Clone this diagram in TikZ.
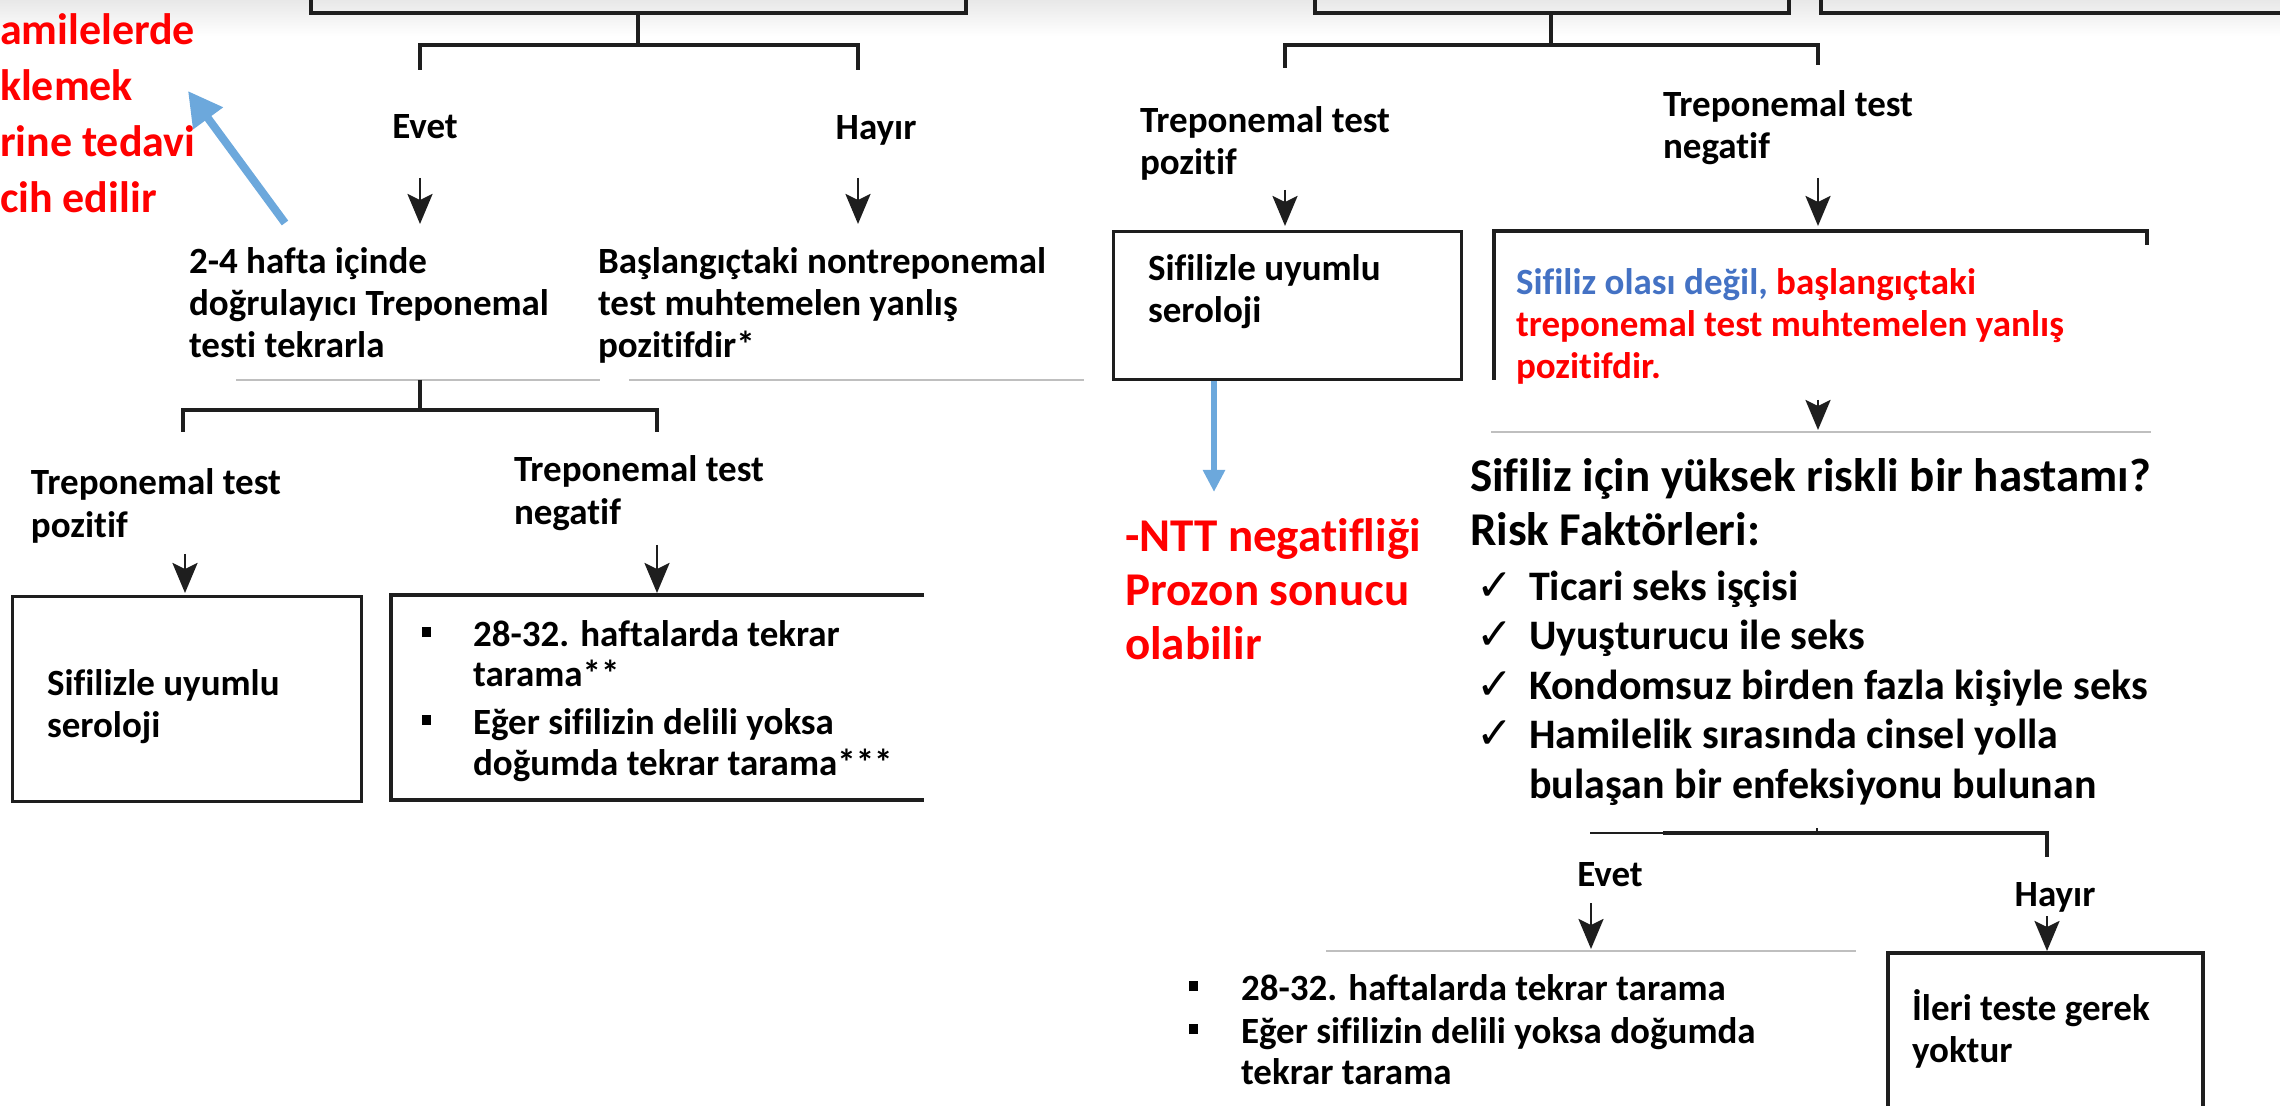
\documentclass[tikz,border=0pt]{standalone}
\usepackage{fontspec}
\setmainfont{Carlito}[Ligatures=NoCommon]
\newfontfamily\symfont{DejaVu Sans}
\usetikzlibrary{arrows.meta}
\definecolor{redT}{RGB}{255,0,0}
\definecolor{blueT}{RGB}{68,114,196}
\definecolor{blueA}{RGB}{108,168,220}
\definecolor{lineC}{RGB}{30,30,30}
\newcommand\Lines[1]{\begin{tabular}[t]{@{}l@{}}#1\end{tabular}}
\newcommand\sqb{\rule[4.5pt]{4.5pt}{5pt}}
\newcommand\ckm{\makebox[26.5pt][l]{\symfont\fontsize{22pt}{22pt}\selectfont ✓}}
\begin{document}
\begin{tikzpicture}[x=0.5pt,y=-0.5pt,
  txt/.style={anchor=base west, inner sep=0pt, outer sep=0pt},
  fM/.style={font={\bfseries\fontsize{18.5pt}{21pt}\selectfont}},
  fB/.style={font={\bfseries\fontsize{18.5pt}{20.5pt}\selectfont}},
  fH/.style={font={\bfseries\fontsize{23.5pt}{27pt}\selectfont}},
  fC/.style={font={\bfseries\fontsize{21pt}{24.75pt}\selectfont}},
  conn/.style={draw=lineC, line width=1.6pt},
  boxn/.style={draw=lineC, line width=1.7pt, inner sep=0pt, anchor=north west},
  sep/.style={draw=black!25, line width=1pt},
  arr/.style={draw=lineC, line width=1.4pt, -{Stealth[length=15pt,width=12.5pt,inset=3pt]}},
  barrowA/.style={draw=blueA, line width=4pt, -{Triangle[length=17pt,width=17.5pt]}},
  barrowB/.style={draw=blueA, line width=3pt, -{Triangle[length=11pt,width=10.5pt]}}]
\clip (0,0) rectangle (2280,1106);
\shade[top color=black!9, bottom color=white] (0,0) rectangle (2280,36);

% ---------------- left column ----------------
\coordinate (tlA) at (311,-6); \coordinate (tlB) at (311,13);
\coordinate (tlC) at (966,13); \coordinate (tlD) at (966,-6);
\draw[conn] (tlA) -- (tlB) -- (tlC) -- (tlD);
\coordinate (s1a) at (638,13); \coordinate (s1b) at (638,45);
\coordinate (b1l) at (420,70); \coordinate (b1r) at (858,70);
\draw[conn] (s1a) -- (s1b);
\draw[conn] (b1l) -- (b1l |- s1b) -- (b1r |- s1b) -- (b1r);

\node[txt,fM,anchor=base] (evet1) at (425,139) {Evet};
\node[txt,fM,anchor=base] (hayir1) at (876,140) {Hayır};
\coordinate (a1s) at (420,178); \coordinate (a1e) at (420,224);
\coordinate (a2s) at (858,178); \coordinate (a2e) at (858,224);
\draw[arr] (a1s) -- (a1e);
\draw[arr] (a2s) -- (a2e);

\node[txt,fM] (t24) at (189,274) {\Lines{2-4 hafta içinde\\doğrulayıcı Treponemal\\testi tekrarla}};
\node[txt,fM] (tbas) at (598,274) {\Lines{Başlangıçtaki nontreponemal\\test muhtemelen yanlış\\pozitifdir*}};

\coordinate (g1a) at (236,380); \coordinate (g1b) at (600,380);
\coordinate (g2a) at (629,380); \coordinate (g2b) at (1084,380);
\draw[sep] (g1a) -- (g1b);
\draw[sep] (g2a) -- (g2b);

\coordinate (s2a) at (420,380); \coordinate (s2b) at (420,410);
\coordinate (b2l) at (183,432); \coordinate (b2r) at (657,432);
\draw[conn] (s2a) -- (s2b);
\draw[conn] (b2l) -- (b2l |- s2b) -- (b2r |- s2b) -- (b2r);

\node[txt,fM] (tp1) at (31,495) {\Lines{Treponemal test\\pozitif}};
\node[txt,fM] (tn1) at (514,482) {\Lines{Treponemal test\\negatif}};
\coordinate (a3s) at (185,554); \coordinate (a3e) at (185,593);
\coordinate (a4s) at (657,545); \coordinate (a4e) at (657,593);
\draw[arr] (a3s) -- (a3e);
\draw[arr] (a4s) -- (a4e);

\node[boxn, minimum width=174.5pt, minimum height=102.5pt] (boxL1) at (11,595) {};
\node[txt,fM] (tsero1) at (47,695) {\Lines{Sifilizle uyumlu\\seroloji}};

\coordinate (oA) at (924,595); \coordinate (oB) at (391,595);
\coordinate (oC) at (391,800); \coordinate (oD) at (924,800);
\draw[conn] (oA) -- (oB) -- (oC) -- (oD);
\node[txt,fB] (bul1) at (422,646) {\begin{tabular}[t]{@{}l@{\hspace{21pt}}l@{}}
\sqb & 28-32. haftalarda tekrar\\
     & tarama**\\[3pt]
\sqb & Eğer sifilizin delili yoksa\\
     & doğumda tekrar tarama***
\end{tabular}};

\node[txt, font={\bfseries\fontsize{22pt}{28pt}\selectfont}, text=redT] (redtop) at (0,45)
  {\Lines{amilelerde\\klemek\\rine tedavi\\cih edilir}};
\coordinate (ba1s) at (285,223); \coordinate (ba1e) at (188,91);
\draw[barrowA] (ba1s) -- (ba1e);

% ---------------- right column ----------------
\coordinate (trA) at (1315,-6); \coordinate (trB) at (1315,13);
\coordinate (trC) at (1789,13); \coordinate (trD) at (1789,-6);
\draw[conn] (trA) -- (trB) -- (trC) -- (trD);
\coordinate (trE) at (1821,-6); \coordinate (trF) at (1821,13); \coordinate (trG) at (2290,13);
\draw[conn] (trE) -- (trF) -- (trG);
\coordinate (s3a) at (1551,13); \coordinate (s3b) at (1551,45);
\coordinate (b3l) at (1285,68); \coordinate (b3r) at (1818,65);
\draw[conn] (s3a) -- (s3b);
\draw[conn] (b3l) -- (b3l |- s3b) -- (b3r |- s3b) -- (b3r);

\node[txt,fM] (tp2) at (1140,133) {\Lines{Treponemal test\\pozitif}};
\node[txt,fM] (tn2) at (1663,117) {\Lines{Treponemal test\\negatif}};
\coordinate (a5s) at (1285,190); \coordinate (a5e) at (1285,226);
\coordinate (a6s) at (1818,178); \coordinate (a6e) at (1818,226);
\draw[arr] (a5s) -- (a5e);
\draw[arr] (a6s) -- (a6e);

\node[boxn, minimum width=174pt, minimum height=74pt] (boxR1) at (1112,230) {};
\node[txt,fM] (tsero2) at (1148,281) {\Lines{Sifilizle uyumlu\\seroloji}};

\coordinate (pA) at (2147,245); \coordinate (pB) at (2147,231);
\coordinate (pC) at (1494,231); \coordinate (pD) at (1494,380);
\draw[conn] (pA) -- (pB) -- (pC) -- (pD);
\node[txt,fM] (tolasi) at (1516,295) {\Lines{{\color{blueT}Sifiliz olası değil,} {\color{redT}başlangıçtaki}\\
  \color{redT}treponemal test muhtemelen yanlış\\ \color{redT}pozitifdir.}};
\coordinate (a7s) at (1818,400); \coordinate (a7e) at (1818,430);
\draw[arr] (a7s) -- (a7e);
\coordinate (g3a) at (1491,432); \coordinate (g3b) at (2151,432);
\draw[sep] (g3a) -- (g3b);

\coordinate (ba2e) at (1214,492);
\draw[barrowB] (boxR1.south -| ba2e) -- (ba2e);
\node[txt,fH,text=redT] (ntt) at (1125,552) {\Lines{-NTT negatifliği\\Prozon sonucu\\olabilir}};

\node[txt,fH] (risk) at (1470,492) {\Lines{Sifiliz için yüksek riskli bir hastamı?\\Risk Faktörleri:}};
\node[txt,fC] (checks) at (1476,600) {\begin{tabular}[t]{@{}l@{}l@{}}
\ckm & Ticari seks işçisi\\
\ckm & Uyuşturucu ile seks\\
\ckm & Kondomsuz birden fazla kişiyle seks\\
\ckm & Hamilelik sırasında cinsel yolla\\
     & bulaşan bir enfeksiyonu bulunan
\end{tabular}};

\coordinate (b4l) at (1590,833); \coordinate (b4m) at (1663,833);
\coordinate (b4r) at (2047,833); \coordinate (b4d) at (2047,857);
\coordinate (b4t) at (1817,828);
\draw[draw=lineC, line width=1pt] (b4l) -- (b4m);
\draw[conn] (b4m) -- (b4r) -- (b4d);
\draw[draw=lineC, line width=1pt] (b4t) -- (b4t |- b4r);

\node[txt,fM,anchor=base] (evet2) at (1610,886) {Evet};
\node[txt,fM,anchor=base] (hayir2) at (2055,906) {Hayır};
\coordinate (a8s) at (1591,903); \coordinate (a8e) at (1591,949);
\coordinate (a9s) at (2047,916); \coordinate (a9e) at (2047,951);
\draw[arr] (a8s) -- (a8e);
\draw[arr] (a9s) -- (a9e);
\coordinate (g4a) at (1326,951); \coordinate (g4b) at (1856,951);
\draw[sep] (g4a) -- (g4b);

\node[txt,fB] (bul2) at (1189,1000) {\begin{tabular}[t]{@{}l@{\hspace{21.5pt}}l@{}}
\sqb & 28-32. haftalarda tekrar tarama\\[1pt]
\sqb & Eğer sifilizin delili yoksa doğumda\\
     & tekrar tarama
\end{tabular}};

\coordinate (qA) at (1888,1115); \coordinate (qB) at (1888,953);
\coordinate (qC) at (2203,953); \coordinate (qD) at (2203,1115);
\draw[conn] (qA) -- (qB) -- (qC) -- (qD);
\node[txt,fM] (ileri) at (1912,1020) {\Lines{İleri teste gerek\\yoktur}};
\end{tikzpicture}
\end{document}
